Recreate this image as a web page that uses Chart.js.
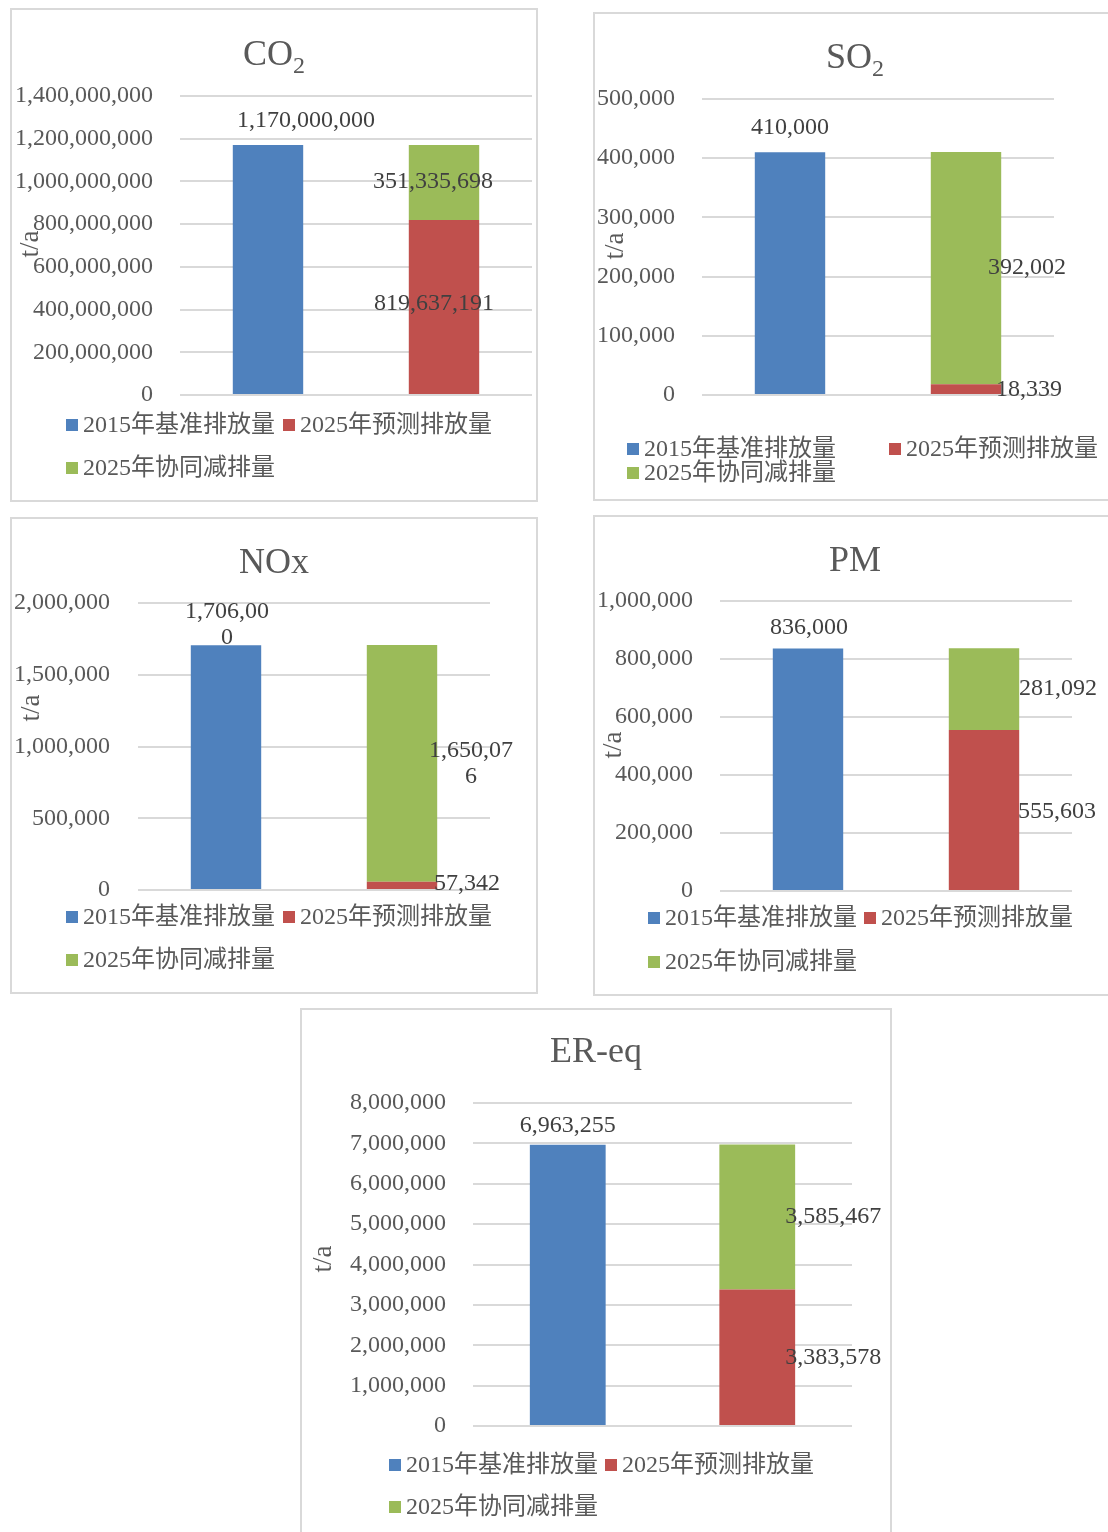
<!DOCTYPE html>
<html>
<head>
<meta charset="utf-8">
<script src="https://cdn.jsdelivr.net/npm/chart.js@4.4.0/dist/chart.umd.min.js"></script>
<style>
html, body { margin: 0; padding: 0; width: 1108px; height: 1532px; overflow: hidden; background: #fff; }
.panel { position: absolute; border: 2px solid #d9d9d9; box-sizing: border-box; background: #fff; }
.panel canvas { display: block; }
</style>
</head>
<body>
<div id="wrap"></div>
<script>
// 数据
const pollutants = ['CO2', 'SO2', 'NOx', 'PM', 'ER-eq'];
const categories = ['2015年', '2025年'];
const seriesNames = ['2015年基准排放量', '2025年预测排放量', '2025年协同减排量'];
const baseline2015 = [1170000000, 410000, 1706000, 836000, 6963255];
const forecast2025 = [819637191, 18339, 57342, 555603, 3383578];
const reduction2025 = [351335698, 392002, 1650076, 281092, 3585467];
const axisMax = [1400000000, 500000, 2000000, 1000000, 8000000];
const axisStep = [200000000, 100000, 500000, 200000, 1000000];

const colors = ['#4f81bd', '#c0504d', '#9bbb59'];
const FONT = '"Liberation Serif", "Noto Sans CJK SC", serif';

// 各图的位置（box: 外框 left, top, width, height / area: 绘图区 left, top, right, bottom）
const panels = [
  { box: [10, 8, 528, 494], area: [168, 85, 520, 384], tickPad: 27, titleY: 55, axisTitle: [19, 234],
    legendRows: [415, 458], legendCols: [54, 271], offs: [[38, 24], [-10, -3], [-11, -1]], wrap: 0 },
  { box: [593, 12, 524, 489], area: [107, 84, 459, 380], tickPad: 27, titleY: 54, axisTitle: [21, 232],
    legendRows: [435, 459], legendCols: [32, 294], offs: [[0, 25], [63, 1], [61, 0]], wrap: 0 },
  { box: [10, 517, 528, 477], area: [126, 83, 478, 370], tickPad: 28, titleY: 54, axisTitle: [20, 189],
    legendRows: [398, 441], legendCols: [54, 271], offs: [[1, 20], [65, -2], [69, 0]], wrap: 8 },
  { box: [593, 515, 524, 481], area: [125, 83, 477, 373], tickPad: 27, titleY: 54, axisTitle: [19, 228],
    legendRows: [401, 445], legendCols: [53, 269], offs: [[1, 21], [73, 2], [74, 0]], wrap: 0 },
  { box: [300, 1008, 592, 540], area: [171, 92, 550, 415], tickPad: 27, titleY: 52, axisTitle: [22, 249],
    legendRows: [455, 497], legendCols: [87, 303], offs: [[0, 19], [76, 1], [76, 0]], wrap: 0 }
];

// 标题・轴标题・数据标签・图例
const panelText = {
  id: 'panelText',
  afterDraw(chart) {
    const o = chart.options.plugins.panelText;
    const ctx = chart.ctx;
    ctx.save();
    // 标题（下标）
    const m = o.title.match(/^(.*?)(\d*)$/);
    ctx.font = '36px ' + FONT;
    const w1 = ctx.measureText(m[1]).width;
    ctx.font = '24px ' + FONT;
    const w2 = m[2] ? ctx.measureText(m[2]).width : 0;
    const x0 = chart.width / 2 - (w1 + w2) / 2;
    ctx.fillStyle = '#595959';
    ctx.textAlign = 'left';
    ctx.textBaseline = 'alphabetic';
    ctx.font = '36px ' + FONT;
    ctx.fillText(m[1], x0, o.titleY);
    if (m[2]) {
      ctx.font = '24px ' + FONT;
      ctx.fillText(m[2], x0 + w1, o.titleY + 8);
    }
    // t/a
    ctx.save();
    ctx.font = '27px ' + FONT;
    ctx.translate(o.axisTitle[0], o.axisTitle[1]);
    ctx.rotate(-Math.PI / 2);
    ctx.textAlign = 'center';
    ctx.textBaseline = 'middle';
    ctx.fillText('t/a', 0, 0);
    ctx.restore();

    // 数据标签
    ctx.font = '24px ' + FONT;
    ctx.fillStyle = '#404040';
    ctx.textAlign = 'center';
    ctx.textBaseline = 'middle';
    chart.data.datasets.forEach((ds, i) => {
      const meta = chart.getDatasetMeta(i);
      meta.data.forEach((el, j) => {
        const v = ds.data[j];
        if (v == null) return;
        const txt = v.toLocaleString('en-US');
        let lines = [txt];
        if (o.wrap && txt.length > o.wrap) {
          lines = [];
          for (let k = 0; k < txt.length; k += o.wrap) lines.push(txt.slice(k, k + o.wrap));
        }
        const off = o.offs[i];
        const cx = el.x + off[0];
        const cy = i === 0 ? el.y - off[1] : (el.y + el.base) / 2 + off[1];
        const lh = 26;
        lines.forEach((ln, k) => {
          ctx.fillText(ln, cx, cy + (k - (lines.length - 1) / 2) * lh);
        });
      });
    });

    // 图例
    const pos = [[o.legendCols[0], o.legendRows[0]], [o.legendCols[1], o.legendRows[0]], [o.legendCols[0], o.legendRows[1]]];
    ctx.textAlign = 'left';
    ctx.textBaseline = 'middle';
    chart.data.datasets.forEach((ds, i) => {
      const [lx, ly] = pos[i];
      ctx.fillStyle = ds.backgroundColor;
      ctx.fillRect(lx, ly - 6, 12, 12);
      ctx.fillStyle = '#595959';
      ctx.fillText(ds.label, lx + 17, ly + 1);
    });
    ctx.restore();
  }
};

Chart.defaults.font.family = FONT;
Chart.defaults.color = '#595959';

const wrap = document.getElementById('wrap');
pollutants.forEach((name, n) => {
  const p = panels[n];
  const div = document.createElement('div');
  div.className = 'panel';
  div.style.left = p.box[0] + 'px';
  div.style.top = p.box[1] + 'px';
  div.style.width = p.box[2] + 'px';
  div.style.height = p.box[3] + 'px';
  const cv = document.createElement('canvas');
  const W = p.box[2] - 4, H = p.box[3] - 4;
  cv.width = W; cv.height = H;
  cv.style.width = W + 'px'; cv.style.height = H + 'px';
  div.appendChild(cv);
  wrap.appendChild(div);

  new Chart(cv.getContext('2d'), {
    type: 'bar',
    data: {
      labels: categories,
      datasets: [
        { label: seriesNames[0], data: [baseline2015[n], null], backgroundColor: colors[0] },
        { label: seriesNames[1], data: [null, forecast2025[n]], backgroundColor: colors[1] },
        { label: seriesNames[2], data: [null, reduction2025[n]], backgroundColor: colors[2] }
      ]
    },
    options: {
      responsive: false,
      animation: false,
      devicePixelRatio: 1,
      layout: { padding: { left: 0, top: p.area[1] + 1, right: W - p.area[2], bottom: H - p.area[3] - 1 } },
      datasets: { bar: { barPercentage: 0.4, categoryPercentage: 1 } },
      scales: {
        x: { stacked: true, display: false },
        y: {
          stacked: true,
          min: 0,
          max: axisMax[n],
          afterFit: s => { s.width = p.area[0]; },
          ticks: {
            stepSize: axisStep[n],
            padding: p.tickPad,
            color: '#595959',
            font: { size: 24, family: FONT },
            callback: v => v.toLocaleString('en-US')
          },
          grid: { color: '#d9d9d9', lineWidth: 2, drawTicks: false },
          border: { display: false }
        }
      },
      plugins: {
        legend: { display: false },
        tooltip: { enabled: false },
        panelText: {
          title: name, titleY: p.titleY, axisTitle: p.axisTitle,
          legendRows: p.legendRows, legendCols: p.legendCols, offs: p.offs, wrap: p.wrap
        }
      }
    },
    plugins: [panelText]
  });
});
</script>
</body>
</html>
